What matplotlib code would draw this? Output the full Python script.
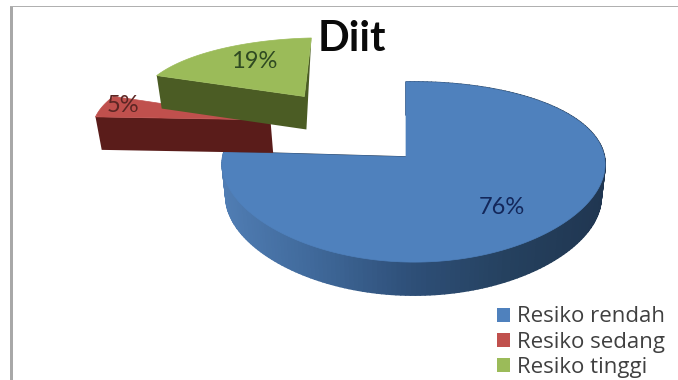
import numpy as np
import matplotlib
matplotlib.use("Agg")
import matplotlib.pyplot as plt
from matplotlib.collections import PolyCollection
from matplotlib.colors import LinearSegmentedColormap
from matplotlib.patches import Patch, Polygon, Rectangle

title = "Diit"
categories = ["Resiko rendah", "Resiko sedang", "Resiko tinggi"]
values = [76, 5, 19]

top_colors = ["#4f81bd", "#c0504d", "#9bbb59"]
wall_colors = ["#2c4c74", "#5a1c1a", "#4b5c24"]
label_colors = ["#13275a", "#5c2624", "#2f4a22"]
label_xy = [(502, 208), (123, 105), (254, 61)]
# how far each slice is pulled out, in units of the pie radius
explode = [(0.0, 0.0), (-0.76, -0.47), (-0.58, -0.80)]
stretch = [1.0, 1.06, 1.0]

# pie projection, pixels
cx, cy = 406, 157
rx, ry = 190.5, 87.5
depth = 33
k_v, k_vx, k_u = 1 / 6, 0.08, 0.04


def proj(u, v, z=0.0):
    sx = 1 / (1 - k_vx * v - k_u * u)
    sy = 1 / (1 - k_v * v - k_u * u)
    shrink = 1 - 0.02 * z
    x = cx + rx * u * sx * shrink
    y = cy + ry * v * sy + depth * z
    return np.column_stack([x, y])


fig = plt.figure(figsize=(6.78, 3.8), dpi=100)
ax = fig.add_axes([0, 0, 1, 1])
ax.set_xlim(0, 678)
ax.set_ylim(380, 0)
ax.axis("off")

# frame of the pasted picture
ax.add_patch(Rectangle((10, 6), 2.5, 374, color="#a8a8a8", lw=0))
ax.add_patch(Rectangle((10, 6), 668, 1.3, color="#b0b0b0", lw=0))

fracs = np.array(values) / sum(values)
ends = np.cumsum(fracs) * 2 * np.pi
starts = ends - fracs * 2 * np.pi
blue_wall = LinearSegmentedColormap.from_list(
    "wall", ["#507db3", "#3f6899", "#2e4f78", "#25415f", "#203651"])

# back to front: green, red, blue
for i in [2, 1, 0]:
    t = np.linspace(starts[i], ends[i], 200)
    ox, oy = explode[i]
    u = np.sin(t) * stretch[i] + ox
    v = -np.cos(t) + oy
    if i == 0:
        low = proj(u, v, 0)
        high = proj(u, v, 1)
        quads = [np.vstack([low[j], low[j + 1], high[j + 1], high[j]])
                 for j in range(len(t) - 1)]
        shade = (low[:-1, 0] - low[:, 0].min()) / np.ptp(low[:, 0])
        walls = PolyCollection(quads, array=shade, cmap=blue_wall, linewidths=1.2,
                               edgecolors="face", zorder=2 + i)
        ax.add_collection(walls)
    else:
        # straight cut face that looks at the viewer
        a = proj(np.array([ox]), np.array([oy]), 0)[0]
        b = proj(u[:1], v[:1], 0)[0]
        c = proj(u[:1], v[:1], 1)[0]
        d = proj(np.array([ox]), np.array([oy]), 1)[0]
        if i == 2:
            e = proj(u[-1:], v[-1:], 0)[0]
            pts = [b, a, e, d, c]
        else:
            pts = [b, a, d, c]
        ax.add_patch(Polygon(pts, color=wall_colors[i], lw=0, zorder=2 + i))
    outline = proj(np.r_[ox, u], np.r_[oy, v], 0)
    ax.add_patch(Polygon(outline, facecolor=top_colors[i], edgecolor=top_colors[i],
                         lw=0.5, zorder=2 + i + 0.5))
    if i == 0:
        # thin dark sliver of the inner cut
        ax.plot(outline[[0, -1], 0], outline[[0, -1], 1], color="#1f3550", lw=1.1,
                zorder=2.4)
    ax.text(label_xy[i][0], label_xy[i][1], f"{values[i]}%", color=label_colors[i],
            family="Lato", fontsize=17, ha="center", va="center", zorder=6)

ax.text(352, 39, title, family="Lato", fontweight="bold", fontsize=30, color="#0a0a0a",
        ha="center", va="center", zorder=6)

handles = [Patch(facecolor=c, edgecolor="none") for c in top_colors]
ax.legend(handles, categories, loc="upper left", bbox_to_anchor=(497, 306.5),
          bbox_transform=ax.transData, frameon=False, ncol=1, borderpad=0, borderaxespad=0,
          prop={"family": "Open Sans", "size": 16}, labelcolor="#404040",
          handlelength=0.6, handleheight=0.6, handletextpad=0.3, labelspacing=0.19)

fig.savefig("out.png", dpi=100)
